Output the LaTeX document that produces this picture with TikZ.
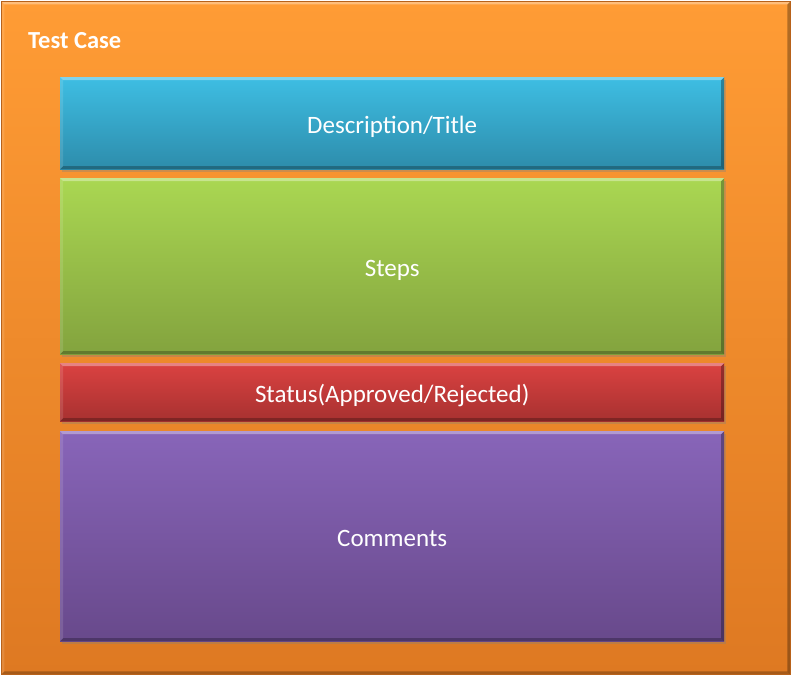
\documentclass[tikz,border=0pt]{standalone}
\usepackage{fontspec}
\setmainfont{Carlito}
\usetikzlibrary{shadows}
\definecolor{orTop}{HTML}{FF9C35}
\definecolor{orBot}{HTML}{DE7922}
\definecolor{orEdge}{HTML}{B8621A}
\definecolor{blTop}{HTML}{3EBEE3}
\definecolor{blBot}{HTML}{2D8CAB}
\definecolor{grTop}{HTML}{AAD752}
\definecolor{grBot}{HTML}{83A33E}
\definecolor{rdTop}{HTML}{DB4241}
\definecolor{rdBot}{HTML}{A73130}
\definecolor{puTop}{HTML}{8865B9}
\definecolor{puBot}{HTML}{68498B}
\tikzset{
  bevel/.style={
    path picture={
      \fill[white,opacity=0.35] (path picture bounding box.north west) -- (path picture bounding box.north east)
        -- ([xshift=-#1,yshift=-#1]path picture bounding box.north east) -- ([xshift=#1,yshift=-#1]path picture bounding box.north west) -- cycle;
      \fill[white,opacity=0.12] (path picture bounding box.north west) -- ([xshift=#1,yshift=-#1]path picture bounding box.north west)
        -- ([xshift=#1,yshift=#1]path picture bounding box.south west) -- (path picture bounding box.south west) -- cycle;
      \fill[black,opacity=0.25] (path picture bounding box.south west) -- (path picture bounding box.south east)
        -- ([xshift=-#1,yshift=#1]path picture bounding box.south east) -- ([xshift=#1,yshift=#1]path picture bounding box.south west) -- cycle;
      \fill[black,opacity=0.3] (path picture bounding box.north east) -- ([xshift=-#1,yshift=-#1]path picture bounding box.north east)
        -- ([xshift=-#1,yshift=#1]path picture bounding box.south east) -- (path picture bounding box.south east) -- cycle;
    }
  },
  panel/.style 2 args={
    anchor=north west, inner sep=0pt, minimum width=664pt,
    top color=#1, bottom color=#2, draw=none,
    text=white, font=\fontsize{25}{30}\selectfont,
    text height=25pt, text depth=5pt,
    bevel=3pt,
    drop shadow={opacity=0.35, shadow xshift=1.5pt, shadow yshift=-2.5pt}
  }
}
\begin{document}
\begin{tikzpicture}[x=1pt,y=-1pt]
\useasboundingbox (0,0) rectangle (792,676);
\node[anchor=north west, inner sep=0pt, minimum width=789pt, minimum height=673pt,
      top color=orTop, bottom color=orBot, draw=orEdge, line width=0.8pt, bevel=3pt] (outer) at (1,1) {};
\node[anchor=base west, inner sep=0pt, text=white, font=\bfseries\fontsize{24.5}{29}\selectfont] (title) at (28,49) {Test Case};
\node[panel={blTop}{blBot}, minimum height=92pt] (desc) at (60,77) {Description/Title};
\node[panel={grTop}{grBot}, minimum height=176pt] (steps) at (60,178) {Steps};
\node[panel={rdTop}{rdBot}, minimum height=58pt] (status) at (60,363) {Status(Approved/Rejected)};
\node[panel={puTop}{puBot}, minimum height=210pt] (comments) at (60,431) {Comments};
\end{tikzpicture}
\end{document}
